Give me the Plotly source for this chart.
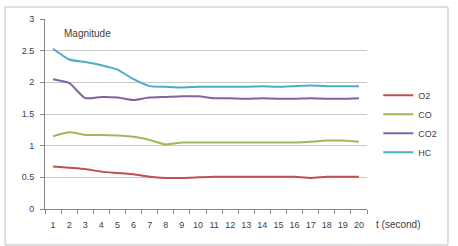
import plotly.graph_objects as go

t = [str(i) for i in range(1, 21)]
o2 = [0.67, 0.65, 0.63, 0.59, 0.57, 0.55, 0.51, 0.49, 0.49, 0.50,
      0.51, 0.51, 0.51, 0.51, 0.51, 0.51, 0.49, 0.51, 0.51, 0.51]
co = [1.15, 1.21, 1.17, 1.17, 1.16, 1.14, 1.09, 1.02, 1.05, 1.05,
      1.05, 1.05, 1.05, 1.05, 1.05, 1.05, 1.06, 1.08, 1.08, 1.06]
co2 = [2.05, 1.99, 1.75, 1.77, 1.76, 1.72, 1.76, 1.77, 1.78, 1.78,
       1.75, 1.75, 1.74, 1.75, 1.74, 1.74, 1.75, 1.74, 1.74, 1.75]
hc = [2.53, 2.36, 2.32, 2.27, 2.20, 2.05, 1.94, 1.93, 1.92, 1.93,
      1.93, 1.93, 1.93, 1.94, 1.93, 1.94, 1.95, 1.94, 1.94, 1.94]
y_ticks = [0, 0.5, 1, 1.5, 2, 2.5, 3]
y_labels = ["0", "0.5", "1", "1.5", "2", "2.5", "3"]

series = [("O2", o2, "#C0504D"), ("CO", co, "#9BBB59"),
          ("CO2", co2, "#8064A2"), ("HC", hc, "#4BACC6")]

fig = go.Figure()
for name, vals, col in series:
    fig.add_trace(go.Scatter(x=t, y=vals, name=name, mode="lines",
                             line=dict(color=col, width=2, shape="spline",
                                       smoothing=0.5)))

font = dict(family="Liberation Sans", size=9, color="#404040")
fig.update_layout(
    width=458, height=246,
    margin=dict(l=45, r=91, t=19, b=37),
    paper_bgcolor="white", plot_bgcolor="white",
    font=font,
    showlegend=True,
    legend=dict(x=1.035, xanchor="left", y=0.675, yanchor="top",
                font=dict(family="Liberation Sans", size=9, color="#404040"),
                bgcolor="rgba(0,0,0,0)", tracegroupgap=0, itemwidth=30),
    xaxis=dict(type="category", range=[-0.5, 19.5], tickson="boundaries",
               ticks="outside", ticklen=4, tickcolor="#868686",
               showline=True, linecolor="#868686", linewidth=1,
               showgrid=False, tickangle=0, tickfont=font,
               ticklabelstandoff=7),
    yaxis=dict(range=[0, 3], tickvals=y_ticks, ticktext=y_labels,
               ticks="outside", ticklen=4, tickcolor="#868686",
               showline=True, linecolor="#868686", linewidth=1,
               showgrid=True, gridcolor="#c8c8c8", gridwidth=1,
               zeroline=False, tickfont=font, ticklabelstandoff=4),
    shapes=[dict(type="rect", xref="paper", yref="paper",
                 x0=-0.124, x1=1.2516, y0=-0.189, y1=1.063,
                 line=dict(color="#bfbfbf", width=1))],
    annotations=[
        dict(text="Magnitude", xref="paper", yref="paper", x=0.053, y=0.926,
             xanchor="left", yanchor="middle", showarrow=False,
             font=dict(family="Liberation Sans", size=10, color="#404040")),
        dict(text="t (second)", xref="paper", yref="paper", x=1.022, y=-0.079,
             xanchor="left", yanchor="middle", showarrow=False,
             font=dict(family="Liberation Sans", size=10, color="#404040")),
    ],
)

fig.write_html("out.html")
